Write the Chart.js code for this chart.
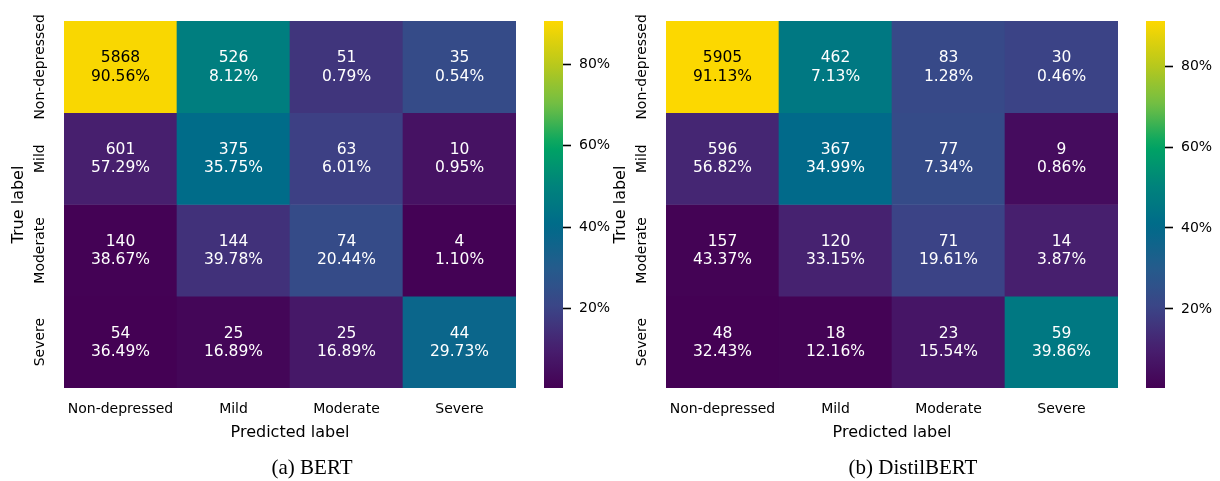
<!DOCTYPE html>
<html>
<head>
<meta charset="utf-8">
<script src="https://cdn.jsdelivr.net/npm/chart.js@4.4.1/dist/chart.umd.min.js"></script>
<style>
  html, body { margin: 0; padding: 0; background: #fff; }
  #page { position: relative; width: 1220px; height: 481px; overflow: hidden; }
  .box { position: absolute; top: 0; }
  .caption {
    position: absolute; top: 454px; width: 300px; text-align: center;
    font-family: "Liberation Serif", "DejaVu Serif", serif; font-size: 21px; color: #000;
    line-height: 26px; white-space: nowrap;
  }
</style>
</head>
<body>
<div id="page">
  <div class="box" style="left:0px"><canvas id="heatA" width="610" height="481"></canvas></div>
  <div class="box" style="left:534px"><canvas id="barA" width="80" height="481"></canvas></div>
  <div class="box" style="left:602px"><canvas id="heatB" width="610" height="481"></canvas></div>
  <div class="box" style="left:1136px"><canvas id="barB" width="80" height="481"></canvas></div>
  <div class="caption" style="left:162px">(a) BERT</div>
  <div class="caption" style="left:763px">(b) DistilBERT</div>
</div>
<script>
// Class names, shared by both axes of each confusion matrix
const classes = ['Non-depressed', 'Mild', 'Moderate', 'Severe'];

// BERT: raw counts (rows = true label, columns = predicted label)
const bertCounts = [
  [5868, 526, 51, 35],
  [601, 375, 63, 10],
  [140, 144, 74, 4],
  [54, 25, 25, 44]
];
// BERT: share of each true-label row, in percent
const bertRowPct = [
  [90.56, 8.12, 0.79, 0.54],
  [57.29, 35.75, 6.01, 0.95],
  [38.67, 39.78, 20.44, 1.10],
  [36.49, 16.89, 16.89, 29.73]
];
// BERT: cell shading on the colour-bar scale (percent)
const bertShade = [
  [90, 48, 16, 23],
  [10, 41, 19, 6],
  [1, 15, 23, 1],
  [0.5, 2, 8, 37]
];

// DistilBERT: raw counts
const distilCounts = [
  [5905, 462, 83, 30],
  [596, 367, 77, 9],
  [157, 120, 71, 14],
  [48, 18, 23, 59]
];
// DistilBERT: share of each true-label row, in percent
const distilRowPct = [
  [91.13, 7.13, 1.28, 0.46],
  [56.82, 34.99, 7.34, 0.86],
  [43.37, 33.15, 19.61, 3.87],
  [32.43, 12.16, 15.54, 39.86]
];
// DistilBERT: cell shading on the colour-bar scale (percent)
const distilShade = [
  [91, 46, 22, 20],
  [12, 40, 23, 4],
  [1, 11, 20, 10],
  [0.5, 1, 7, 46]
];

// Colour bar tick values (percent)
const colourbarTicks = [20, 40, 60, 80];

// ---------------------------------------------------------------------------
// Viridis-style colour map
const mapStops = [
  [0.00, [68, 1, 84]],
  [0.11, [71, 32, 111]],
  [0.22, [59, 69, 135]],
  [0.33, [36, 92, 140]],
  [0.44, [0, 106, 138]],
  [0.55, [0, 131, 124]],
  [0.66, [0, 164, 99]],
  [0.77, [111, 190, 69]],
  [0.88, [184, 200, 28]],
  [1.00, [253, 216, 0]]
];
function mapRGB(t) {
  t = Math.max(0, Math.min(1, t));
  for (let k = 1; k < mapStops.length; k++) {
    const [t1, c1] = mapStops[k];
    const [t0, c0] = mapStops[k - 1];
    if (t <= t1) {
      const f = (t - t0) / (t1 - t0);
      return c0.map((v, i) => Math.round(v + f * (c1[i] - v)));
    }
  }
  return mapStops[mapStops.length - 1][1];
}
const rgbStr = c => `rgb(${c[0]},${c[1]},${c[2]})`;
function luminance(c) {
  const lin = c.map(v => { v /= 255; return v <= 0.03928 ? v / 12.92 : Math.pow((v + 0.055) / 1.055, 2.4); });
  return 0.2126 * lin[0] + 0.7152 * lin[1] + 0.0722 * lin[2];
}

const FONT = '"DejaVu Sans", "Liberation Sans", sans-serif';

// Draws the count / percent annotations and the rotated row labels
const cellText = {
  id: 'cellText',
  afterDatasetsDraw(chart, args, opts) {
    const { ctx, scales: { x, y }, chartArea } = chart;
    ctx.save();
    ctx.textAlign = 'center';
    ctx.textBaseline = 'alphabetic';
    ctx.font = '15.5px ' + FONT;
    opts.counts.forEach((row, i) => row.forEach((n, j) => {
      const cx = x.getPixelForValue(j);
      const cy = y.getPixelForValue(i + 0.5);
      ctx.fillStyle = luminance(opts.colours[i][j]) > 0.408 ? '#000' : '#fff';
      ctx.fillText(String(n), cx, cy - 4.6);
      ctx.fillText(opts.pct[i][j].toFixed(2) + '%', cx, cy + 13.8);
    }));
    ctx.fillStyle = '#000';
    ctx.font = '14px ' + FONT;
    classes.forEach((lab, i) => {
      ctx.save();
      ctx.translate(chartArea.left - 20, y.getPixelForValue(i + 0.5));
      ctx.rotate(-Math.PI / 2);
      ctx.fillText(lab, 0, 0);
      ctx.restore();
    });
    ctx.restore();
  }
};

function heatmap(canvasId, counts, pct, shade) {
  const vmin = Math.min(...pct.flat());
  const vmax = Math.max(...pct.flat());
  const colours = shade.map(r => r.map(v => mapRGB((v - vmin) / (vmax - vmin))));
  const datasets = counts.map((row, i) => ({
    label: classes[i],
    data: row.map(() => [i, i + 1]),
    backgroundColor: colours[i].map(rgbStr),
    borderWidth: 0,
    barPercentage: 1,
    categoryPercentage: 1
  }));
  new Chart(document.getElementById(canvasId), {
    type: 'bar',
    data: { labels: classes, datasets },
    options: {
      responsive: false,
      animation: false,
      grouped: false,
      layout: { padding: { top: 21, right: 94, bottom: 33, left: 0 } },
      plugins: {
        legend: { display: false },
        tooltip: { enabled: false },
        cellText: { counts, pct, colours }
      },
      scales: {
        x: {
          type: 'category',
          grid: { display: false, drawTicks: false },
          border: { display: false },
          ticks: { color: '#000', font: { size: 14, family: FONT }, padding: 12.8, maxRotation: 0 },
          title: { display: true, text: 'Predicted label', color: '#000',
                   font: { size: 16, family: FONT }, padding: { top: 0, bottom: 5.2 } },
          afterFit: s => { s.height = 60; }
        },
        y: {
          type: 'linear', min: 0, max: 4, reverse: true,
          grid: { display: false, drawTicks: false },
          border: { display: false },
          ticks: { display: false },
          title: { display: true, text: 'True label', color: '#000',
                   font: { size: 16, family: FONT }, padding: { top: 9.4, bottom: 0 } },
          afterFit: s => { s.width = 64; }
        }
      }
    },
    plugins: [cellText]
  });
  return { vmin, vmax };
}

function colourbar(canvasId, range) {
  new Chart(document.getElementById(canvasId), {
    type: 'bar',
    data: {
      labels: ['scale'],
      datasets: [{
        data: [[range.vmin, range.vmax]],
        borderWidth: 0,
        barPercentage: 1,
        categoryPercentage: 1,
        backgroundColor: ctx => {
          const chart = ctx.chart;
          const y = chart.scales.y;
          if (!chart.chartArea || !y) return '#888';
          const g = chart.ctx.createLinearGradient(0, y.getPixelForValue(range.vmin), 0, y.getPixelForValue(range.vmax));
          for (let k = 0; k <= 40; k++) g.addColorStop(k / 40, rgbStr(mapRGB(k / 40)));
          return g;
        }
      }]
    },
    options: {
      responsive: false,
      animation: false,
      layout: { padding: { top: 21, right: 0, bottom: 93, left: 10 } },
      plugins: { legend: { display: false }, tooltip: { enabled: false } },
      scales: {
        x: { display: false },
        y: {
          type: 'linear', position: 'right', min: range.vmin, max: range.vmax,
          grid: { drawOnChartArea: false, drawTicks: true, tickLength: 8, tickColor: '#000', tickWidth: 1.6 },
          border: { display: false },
          afterBuildTicks: s => { s.ticks = colourbarTicks.map(v => ({ value: v })); },
          ticks: { color: '#000', font: { size: 14, family: FONT }, padding: 8,
                   callback: v => v + '%' },
          afterFit: s => { s.width = 51; }
        }
      }
    }
  });
}

colourbar('barA', heatmap('heatA', bertCounts, bertRowPct, bertShade));
colourbar('barB', heatmap('heatB', distilCounts, distilRowPct, distilShade));
</script>
</body>
</html>
